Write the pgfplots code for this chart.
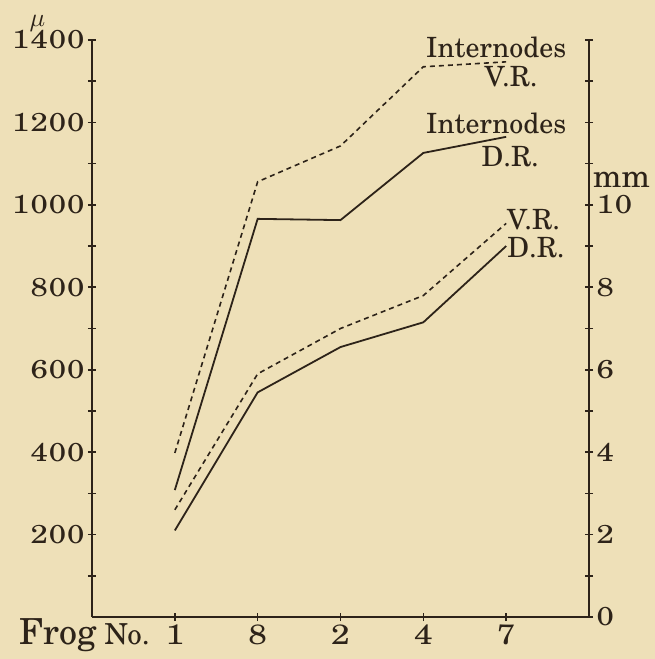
\documentclass[border=0pt]{standalone}
\usepackage{fontspec}
\usepackage{graphicx}
\usepackage{pgfplots}
\pgfplotsset{compat=1.18}
\setmainfont{texgyreschola-regular.otf}
\newfontfamily\numfont{texgyreschola-regular.otf}[FakeStretch=1.2, LetterSpace=4]
\definecolor{paper}{RGB}{238,224,184}
\definecolor{ink}{RGB}{45,35,25}

\pgfplotsset{
  frog/.style={
    scale only axis, width=497bp, height=577bp,
    xmin=0, xmax=6,
    tick align=inside, major tick length=8bp, minor tick length=8bp,
    tick style={ink, line width=1.6bp},
    /pgf/number format/assume math mode=true,
    /pgf/number format/1000 sep={},
    yticklabel style={font=\fontsize{26}{26}\numfont, text=ink},
    xticklabel style={font=\fontsize{28}{28}\numfont, text=ink},
    clip=false,
  },
  noarrow/.style={
    axis line style={-, ink, line width=2bp},
    x axis line style={-}, y axis line style={-},
  },
}
\tikzset{
  solidline/.style={ink, line width=1.8bp},
  dashline/.style={ink, line width=1.6bp, dash pattern=on 5bp off 4bp},
  lbl/.style={text=ink, font=\fontsize{28}{28}\selectfont, inner sep=0pt},
}

\begin{document}
\begin{tikzpicture}
\fill[paper] (-92bp,-42bp) rectangle (563bp,617bp);
\path[use as bounding box] (-92bp,-42bp) rectangle (563bp,617bp);

% internodes, in micra (left scale)
\begin{axis}[frog,
  ymin=0, ymax=1400,
  axis x line=bottom, axis y line=left, noarrow,
  xtick={1,...,5}, xticklabels={1,8,2,4,7},
  ytick={200,400,...,1400}, minor ytick={100,300,...,1300},
]
\addplot[solidline] coordinates {(1,308) (2,966) (3,963) (4,1126) (5,1165)};
\addplot[dashline] coordinates {(1,398) (2,1056) (3,1143) (4,1335) (5,1347)};

\node[lbl] at (axis cs:4.88,1383) {Internodes};
\node[lbl] at (axis cs:5.06,1312) {V.R.};
\node[lbl] at (axis cs:4.88,1198) {Internodes};
\node[lbl] at (axis cs:5.05,1116) {D.R.};
\node[text=ink, inner sep=0pt, anchor=south] at (axis cs:-0.66,1420) {\scalebox{2.6}{$\mu$}};
\node[anchor=base east, text=ink, inner sep=0pt, yshift=-27bp,
      font=\fontsize{29}{29}\selectfont]
  at (axis cs:0.7,0) {{\fontsize{36}{36}\selectfont Frog} No.};
\end{axis}

% roots, in mm (right scale)
\begin{axis}[frog,
  ymin=0, ymax=14,
  axis x line=none, axis y line=right, noarrow,
  ytick={0,2,...,14}, yticklabels={0,2,4,6,8,10,{},{}},
  minor ytick={1,3,...,13},
]
\addplot[dashline] coordinates {(1,2.6) (2,5.9) (3,7.0) (4,7.8) (5,9.55)};
\addplot[solidline] coordinates {(1,2.1) (2,5.45) (3,6.55) (4,7.15) (5,9.0)};

\node[lbl] at (axis cs:5.33,9.63) {V.R.};
\node[lbl] at (axis cs:5.36,8.96) {D.R.};
\node[lbl, anchor=west, xshift=4bp, font=\fontsize{32}{32}\selectfont]
  at (axis cs:6,10.6) {mm};
\end{axis}
\end{tikzpicture}
\end{document}
